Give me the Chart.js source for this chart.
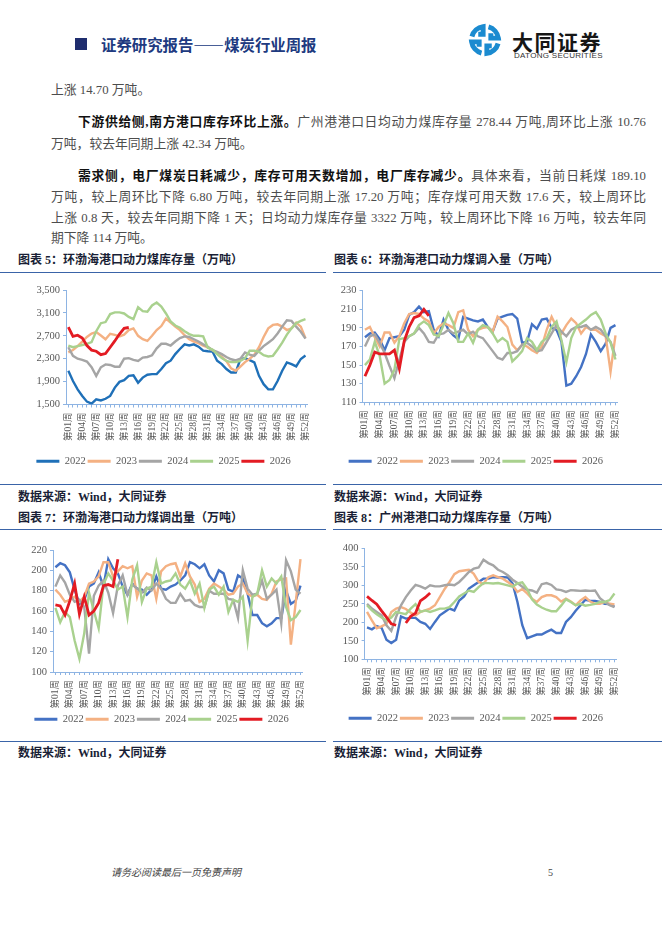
<!DOCTYPE html>
<html lang="zh-CN">
<head>
<meta charset="utf-8">
<title>煤炭行业周报</title>
<script src="https://cdn.jsdelivr.net/npm/chart.js@4.4.1/dist/chart.umd.min.js"></script>
<style>
  html, body { margin: 0; padding: 0; background: #fff; }
  body { width: 662px; height: 936px; position: relative; overflow: hidden;
         font-family: 'Liberation Serif', 'Noto Sans CJK SC', serif; }
  .abs { position: absolute; }
  .txt { position: absolute; height: 20px; line-height: 20px; font-size: 12.8px; color: #4d4d4d; white-space: nowrap; }
  .just { text-align: justify; text-align-last: justify; white-space: normal; overflow: hidden; }
  .txt b { color: #111; font-family: 'Liberation Serif', 'Noto Sans CJK SC', sans-serif; }
  .cap { position: absolute; height: 16px; line-height: 16px; font-size: 12px; font-weight: bold; color: #1a1f36; white-space: nowrap; }
  .rule { position: absolute; height: 1px; background: #3a64a8; }
  canvas { position: absolute; }
</style>
</head>
<body>

<!-- header -->
<div class="abs" style="left:75px;top:38px;width:12px;height:12px;background:#1f2d6e"></div>
<div class="abs" style="left:101px;top:35px;height:18px;line-height:18px;font-size:15.4px;font-weight:bold;color:#203a80;white-space:nowrap;font-family:'Noto Sans CJK SC',sans-serif">证券研究报告——煤炭行业周报</div>
<svg class="abs" style="left:467px;top:22px" width="36" height="36" viewBox="0 0 40 40">
  <defs><path id="hook" d="M5.5 16.1 A15 15 0 0 1 17.9 5.15 L17.9 13.5 L12.5 13.5"/></defs>
  <g fill="none" stroke="#1b8bd0" stroke-width="5.5">
    <use href="#hook"/>
    <use href="#hook" transform="rotate(90 20 20)"/>
    <use href="#hook" transform="rotate(180 20 20)"/>
    <use href="#hook" transform="rotate(270 20 20)"/>
  </g>
</svg>
<div class="abs" style="left:512px;top:30px;height:22px;line-height:22px;font-size:21px;font-weight:bold;color:#161616;letter-spacing:1.5px;white-space:nowrap;font-family:'Noto Sans CJK SC',sans-serif">大同证券</div>
<div class="abs" style="left:514px;top:51px;height:10px;line-height:10px;font-size:8px;color:#333;letter-spacing:0.3px;white-space:nowrap;font-family:'Liberation Sans',sans-serif">DATONG SECURITIES</div>

<!-- body text -->
<div class="txt" style="left:51px;top:80px">上涨 14.70 万吨。</div>
<div class="txt just" style="left:78px;top:112px;width:568px"><b>下游供给侧,南方港口库存环比上涨。</b>广州港港口日均动力煤库存量 278.44 万吨,周环比上涨 10.76</div>
<div class="txt" style="left:51px;top:134px">万吨，较去年同期上涨 42.34 万吨。</div>
<div class="txt just" style="left:78px;top:166px;width:568px"><b>需求侧，电厂煤炭日耗减少，库存可用天数增加，电厂库存减少。</b>具体来看，当前日耗煤 189.10</div>
<div class="txt just" style="left:51px;top:187px;width:595px">万吨，较上周环比下降 6.80 万吨，较去年同期上涨 17.20 万吨；库存煤可用天数 17.6 天，较上周环比</div>
<div class="txt just" style="left:51px;top:207.5px;width:595px">上涨 0.8 天，较去年同期下降 1 天；日均动力煤库存量 3322 万吨，较上周环比下降 16 万吨，较去年同</div>
<div class="txt" style="left:51px;top:228px">期下降 114 万吨。</div>

<!-- chart frames -->
<div class="cap" style="left:18px;top:252px">图表 5：环渤海港口动力煤库存量（万吨）</div>
<div class="cap" style="left:334px;top:252px">图表 6：环渤海港口动力煤调入量（万吨）</div>
<div class="rule" style="left:0;top:272px;width:326px"></div>
<div class="rule" style="left:333px;top:272px;width:329px"></div>
<div class="rule" style="left:0;top:484px;width:326px"></div>
<div class="rule" style="left:333px;top:484px;width:329px"></div>
<div class="cap" style="left:18px;top:489px">数据来源：Wind，大同证券</div>
<div class="cap" style="left:334px;top:489px">数据来源：Wind，大同证券</div>

<div class="cap" style="left:18px;top:510px">图表 7：环渤海港口动力煤调出量（万吨）</div>
<div class="cap" style="left:334px;top:510px">图表 8：广州港港口动力煤库存量（万吨）</div>
<div class="rule" style="left:0;top:528.5px;width:326px"></div>
<div class="rule" style="left:333px;top:528.5px;width:329px"></div>
<div class="rule" style="left:0;top:741px;width:326px"></div>
<div class="rule" style="left:333px;top:741px;width:329px"></div>
<div class="cap" style="left:18px;top:745px">数据来源：Wind，大同证券</div>
<div class="cap" style="left:334px;top:745px">数据来源：Wind，大同证券</div>

<canvas id="c5" width="304" height="196" style="left:18px;top:280px"></canvas>
<canvas id="c6" width="299" height="196" style="left:333px;top:280px"></canvas>
<canvas id="c7" width="299" height="194" style="left:18px;top:540px"></canvas>
<canvas id="c8" width="298" height="195" style="left:333px;top:538px"></canvas>

<!-- footer -->
<div class="abs" style="left:111px;top:866px;height:14px;line-height:14px;font-size:10px;font-style:italic;color:#444;white-space:nowrap">请务必阅读最后一页免责声明</div>
<div class="abs" style="left:548px;top:866px;height:14px;line-height:14px;font-size:10px;color:#444">5</div>

<script>
// week labels 第01周 ... 第52周
const weeks = [];
for (let i = 1; i <= 52; i++) weeks.push('第' + String(i).padStart(2, '0') + '周');
const years = ['2022', '2023', '2024', '2025', '2026'];

// 图表5 环渤海港口动力煤库存量
const bhStock2022 = [2090,1910,1765,1650,1550,1515,1590,1570,1600,1650,1795,1895,1925,2000,2010,1880,1970,2020,2030,2030,2120,2220,2265,2380,2470,2550,2530,2550,2510,2440,2430,2425,2265,2205,2120,2060,2060,2295,2310,2275,2235,2000,1855,1765,1765,1910,2090,2235,2205,2165,2295,2355];
const bhStock2023 = [2410,2450,2520,2600,2680,2740,2765,2705,2640,2735,2715,2690,2720,2800,2830,2700,2640,2610,2700,2800,2870,3000,2930,2860,2800,2710,2640,2600,2570,2530,2500,2450,2400,2330,2260,2130,2090,2160,2240,2300,2370,2500,2680,2830,2890,2900,2860,2800,2830,2930,2860,2660];
const bhStock2024 = [2500,2350,2300,2280,2250,2150,2000,2150,2200,2190,2160,2160,2300,2310,2280,2260,2320,2330,2360,2480,2560,2560,2530,2600,2660,2690,2680,2640,2600,2550,2510,2450,2420,2380,2330,2290,2270,2300,2410,2370,2350,2440,2520,2580,2640,2740,2860,2970,2960,2860,2770,2650];
const bhStock2025 = [2530,2500,2520,2540,2560,2590,2780,2920,2940,3080,3110,3110,3090,3030,2990,3200,3130,3120,3230,3280,3210,3090,2950,2880,2840,2780,2730,2700,2700,2690,2490,2460,2380,2310,2260,2240,2240,2260,2310,2440,2440,2420,2360,2340,2350,2460,2580,2720,2830,2920,2960,2990];
const bhStock2026 = [2850,2690,2710,2660,2530,2450,2430,2370,2390,2500,2610,2730,2830,2845];

// 图表6 环渤海港口动力煤调入量
const bhIn2022 = [180,184,185,178,166,179,180,181,188,204,207,213,207,208,188,181,199,188,182,178,202,200,198,197,199,191,186,200,202,204,205,200,174,175,194,189,199,200,190,188,175,128,130,138,148,162,183,175,165,173,190,193];
const bhIn2023 = [188,191,180,170,185,185,174,181,195,205,206,205,200,197,184,191,195,193,190,207,209,188,181,188,190,191,186,202,197,191,172,166,172,170,166,163,170,188,202,191,184,193,200,195,184,191,188,188,184,181,143,182];
const bhIn2024 = [170,181,183,174,163,149,136,156,175,181,184,190,184,175,174,183,184,188,184,186,188,183,186,181,179,172,165,158,156,163,163,165,172,174,170,165,166,175,184,193,186,181,188,191,191,193,188,191,188,181,175,160];
const bhIn2025 = [150,156,175,160,130,134,145,178,179,181,184,193,197,193,183,181,193,206,195,175,175,184,174,188,193,191,184,175,179,175,154,159,165,179,175,166,175,179,191,197,177,153,179,191,195,199,204,207,199,184,174,156];
const bhIn2026 = [138,150,164,162,162,162,166,146,176,191,201,203,210,203];

// 图表7 环渤海港口动力煤调出量
const bhOut2022 = [203,207,205,198,181,167,171,184,187,198,184,211,202,197,184,176,187,182,181,176,181,194,182,181,184,186,190,195,208,206,202,206,195,189,200,197,181,179,195,192,177,156,156,148,145,148,153,153,180,167,170,185];
const bhOut2023 = [181,176,169,171,174,169,174,187,189,194,208,208,194,199,204,202,204,174,190,197,195,172,199,204,206,207,194,207,194,186,169,172,182,187,184,181,176,177,184,187,177,174,176,172,171,177,189,191,192,127,168,211];
const bhOut2024 = [184,195,188,176,169,171,164,118,175,185,190,178,158,185,195,176,186,182,178,183,180,187,182,172,168,168,177,170,171,166,164,164,180,177,177,177,172,171,153,200,182,176,177,190,172,176,181,148,210,199,181,177];
const bhOut2025 = [163,149,159,154,131,113,138,178,160,143,186,197,190,181,184,154,191,205,169,182,184,208,187,189,190,197,186,182,190,177,187,163,181,184,176,184,159,171,169,174,131,174,177,200,184,192,187,194,164,151,154,161];
const bhOut2026 = [166,165,156,170,187,157,174,156,160,168,185,186,184,211];

// 图表8 广州港港口动力煤库存量
const gzStock2022 = [186,181,190,185,153,144,153,216,210,212,212,201,196,182,201,219,228,237,232,259,270,291,300,309,318,318,322,321,322,321,305,255,192,157,162,167,167,174,180,171,171,201,214,231,246,261,258,258,255,250,249,242];
const gzStock2023 = [228,205,184,189,196,228,237,241,236,226,219,228,232,237,246,268,290,309,330,338,340,342,331,309,304,322,327,322,318,309,300,282,290,278,264,255,268,273,273,268,256,264,256,246,259,268,256,250,250,255,250,248];
const gzStock2024 = [250,237,228,219,192,177,215,246,268,286,301,297,291,300,297,297,300,302,300,309,322,336,345,348,369,360,354,342,336,327,315,306,296,288,286,280,303,306,301,289,287,282,287,286,285,286,285,286,265,255,246,241];
const gzStock2025 = [246,232,222,213,205,213,228,225,222,237,249,228,232,228,232,237,237,241,255,270,278,286,282,295,306,306,305,306,303,300,296,305,308,290,262,248,240,234,230,230,245,262,255,246,250,245,247,250,255,255,260,278];
const gzStock2026 = [270,259,249,231,214,196,192,null,198,216,225,258,267,279];

const axisColor = '#8eb4e3';
const tickColor = '#595959';
const serif = "'Liberation Serif', 'Noto Sans CJK SC', serif";

// keep legend block at a fixed height so the plot sits where it should
const legendHeight = {
    id: 'legendHeight',
    beforeInit(chart) {
        const lg = chart.legend;
        if (!lg) return;
        const fit = lg.fit;
        lg.fit = function () { fit.call(this); this.height = 22; };
    }
};

function drawChart(id, series, c) {
    const colors = [c.blue, '#f4b183', '#a5a5a5', '#a9d18e', '#e31b23'];
    new Chart(document.getElementById(id), {
        type: 'line',
        data: {
            labels: weeks,
            datasets: series.map((data, i) => ({
                label: years[i],
                data: data,
                borderColor: colors[i],
                backgroundColor: colors[i],
                borderWidth: i === 4 ? 2.8 : 2.4,
                pointRadius: 0,
                tension: 0,
                spanGaps: false,
                order: 5 - i
            }))
        },
        options: {
            responsive: false,
            animation: false,
            events: [],
            layout: { padding: { top: c.top, right: c.right, left: 0, bottom: 0 } },
            scales: {
                x: {
                    offset: true,
                    grid: { display: true, drawOnChartArea: false, drawTicks: true, tickLength: 3, color: axisColor },
                    border: { display: true, color: axisColor, width: 1 },
                    ticks: {
                        autoSkip: false, minRotation: 90, maxRotation: 90, padding: 5,
                        color: tickColor, font: { family: serif, size: 9.5 },
                        callback: function (v, i) { return i % 3 === 0 ? this.getLabelForValue(v) : ''; }
                    },
                    afterFit(s) { s.height = c.xh; }
                },
                y: {
                    min: c.min, max: c.max,
                    grid: { display: true, drawOnChartArea: false, drawTicks: true, tickLength: 3, color: axisColor },
                    border: { display: true, color: axisColor, width: 1 },
                    ticks: {
                        stepSize: c.step, padding: 3, color: tickColor,
                        font: { family: serif, size: 10.5 },
                        callback: v => v.toLocaleString('en-US')
                    },
                    afterFit(s) { s.width = c.yw; }
                }
            },
            plugins: {
                tooltip: { enabled: false },
                legend: {
                    position: 'bottom',
                    labels: {
                        boxWidth: 23, boxHeight: 3, padding: 2,
                        color: tickColor, font: { family: serif, size: 10.5 },
                        sort: (a, b) => a.datasetIndex - b.datasetIndex,
                        generateLabels(chart) {
                            const items = Chart.defaults.plugins.legend.labels.generateLabels(chart);
                            items.forEach(it => { it.lineWidth = 0; it.fillStyle = it.strokeStyle; });
                            return items;
                        }
                    }
                }
            }
        },
        plugins: [legendHeight]
    });
}

drawChart('c5', [bhStock2022, bhStock2023, bhStock2024, bhStock2025, bhStock2026],
    { blue: '#1f70b8', min: 1500, max: 3500, step: 200, top: 10, right: 13, yw: 48, xh: 49.5 });
drawChart('c6', [bhIn2022, bhIn2023, bhIn2024, bhIn2025, bhIn2026],
    { blue: '#4472c4', min: 110, max: 230, step: 20, top: 10.7, right: 13.5, yw: 29.5, xh: 51.7 });
drawChart('c7', [bhOut2022, bhOut2023, bhOut2024, bhOut2025, bhOut2026],
    { blue: '#4472c4', min: 100, max: 220, step: 20, top: 10, right: 12, yw: 35, xh: 40 });
drawChart('c8', [gzStock2022, gzStock2023, gzStock2024, gzStock2025, gzStock2026],
    { blue: '#4472c4', min: 100, max: 400, step: 50, top: 10.3, right: 12.5, yw: 31.6, xh: 51.7 });
</script>
</body>
</html>
